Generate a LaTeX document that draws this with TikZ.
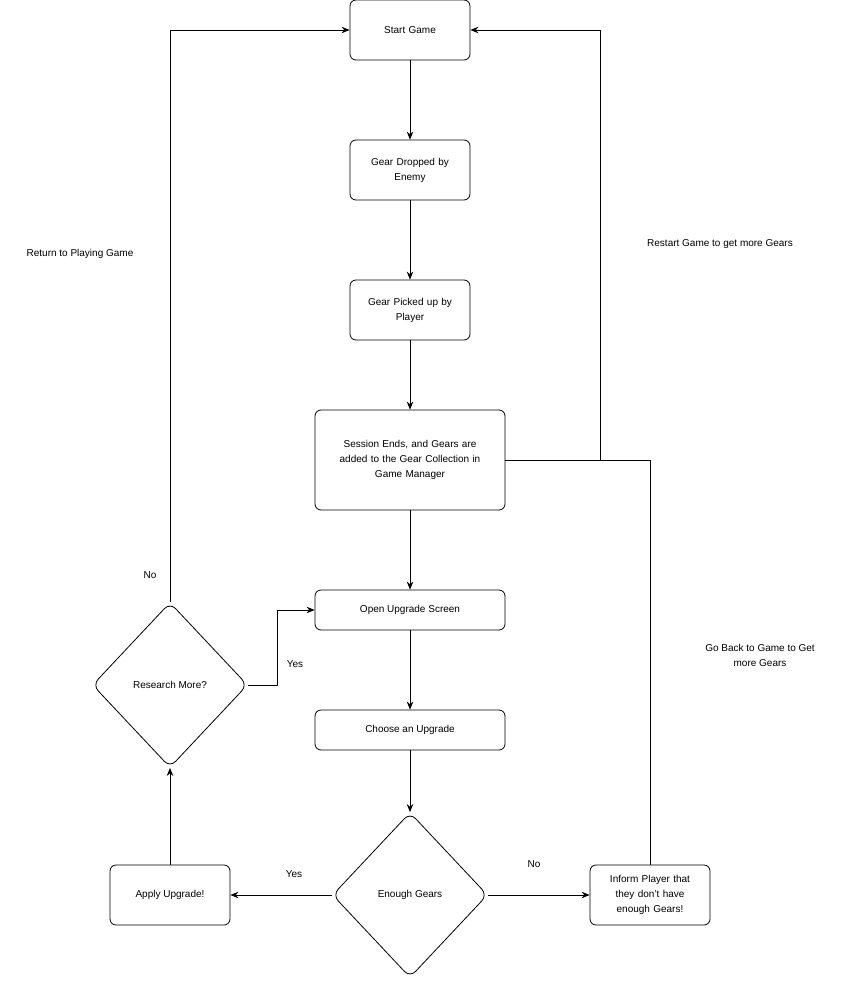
\documentclass[tikz,border=0pt]{standalone}
\usepackage{fontspec}
\setmainfont{Liberation Sans}
\usetikzlibrary{shapes.geometric,arrows.meta}
\begin{document}
\begin{tikzpicture}[x=1pt,y=-1pt,
  every node/.style={font=\fontsize{10}{15}\selectfont, align=center},
  box/.style={draw, rounded corners=6pt, line width=0.8pt, minimum width=120pt, minimum height=60pt, inner sep=2pt},
  wbox/.style={box, minimum width=190pt},
  dia/.style={draw, diamond, rounded corners=8pt, line width=0.8pt, minimum width=155pt, minimum height=165pt, inner sep=0pt},
  lbl/.style={inner sep=0pt},
  arr/.style={draw, line width=0.8pt, -{Stealth[length=8pt,width=6.5pt]}}]
\useasboundingbox (0,0) rectangle (841,981);
\node[box, text width=115pt] (start) at (410,30) {Start Game};
\node[box, text width=115pt] (drop) at (410,170) {Gear Dropped by\\Enemy};
\node[box, text width=115pt] (pick) at (410,310) {Gear Picked up by\\Player};
\node[wbox, minimum height=100pt, text width=185pt] (sess) at (410,460) {Session Ends, and Gears are\\added to the Gear Collection in\\Game Manager};
\node[wbox, minimum height=40pt] (open) at (410,610) {Open Upgrade Screen};
\node[wbox, minimum height=40pt] (choose) at (410,730) {Choose an Upgrade};
\node[dia] (enough) at (410,895) {Enough Gears};
\node[box] (apply) at (170,895) {Apply Upgrade!};
\node[dia] (research) at (170,685) {Research More?};
\node[box, text width=115pt] (inform) at (650,895) {Inform Player that\\they don't have\\enough Gears!};

\draw[arr] (start) -- (drop);
\draw[arr] (drop) -- (pick);
\draw[arr] (pick) -- (sess);
\draw[arr] (sess) -- (open);
\draw[arr] (open) -- (choose);
\draw[arr] (choose) -- (enough);
\draw[arr] (enough) -- (apply);
\draw[arr] (enough) -- (inform);
\draw[arr] (apply) -- (research);
\draw[arr] (research.east) -- (277,685) -- (277,610) -- (open.west);
\draw[arr] (research.north) -- (170,30) -- (start.west);
\draw[arr] (sess.east |- 0,460) -- (600,460) -- (600,30) -- (start.east);
\draw[line width=0.8pt] (inform.north) -- (650,460) -- (600,460);

\node[lbl] (l1) at (294,874) {Yes};
\node[lbl] (l2) at (534,864) {No};
\node[lbl] (l3) at (295,664) {Yes};
\node[lbl] (l4) at (150,575) {No};
\node[lbl] (l5) at (80,254) {Return to Playing Game};
\node[lbl] (l6) at (720,244) {Restart Game to get more Gears};
\node[lbl] (l7) at (760,655) {Go Back to Game to Get\\more Gears};
\end{tikzpicture}
\end{document}
